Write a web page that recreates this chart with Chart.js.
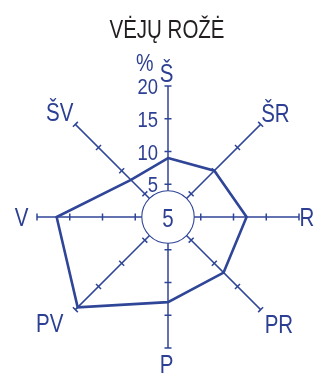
<!DOCTYPE html>
<html><head><meta charset="utf-8">
<script src="https://cdn.jsdelivr.net/npm/chart.js@4"></script>
<style>html,body{margin:0;padding:0;background:#fff;overflow:hidden}#wrap{width:331px;height:374px;position:relative}</style>
</head><body><div id="wrap"><canvas id="c"></canvas></div>
<script>
// ---- data ----
const chartTitle = 'VĖJŲ ROŽĖ';
const directions = ['Š', 'ŠR', 'R', 'PR', 'P', 'PV', 'V', 'ŠV'];
const frequency = [9, 10, 12, 12, 13, 19.5, 17, 8];
const calm = 5;
const tickValues = [5, 10, 15, 20];
const unitLabel = '%';

// ---- style ----
const BLUE = '#2f4597';
const TEXT_BLUE = '#2c3f92';
const FONT = '"Liberation Sans",Arial,sans-serif';
const NARROW = 0.82;
const CALM_RADIUS_VALUE = 4;
// label offsets relative to outer end of each axis: [dx, dy, align]
const labelPlace = [
  [-1.5, -4, 'center'],
  [0.5, -2.5, 'left'],
  [0.5, 8.5, 'left'],
  [4, 23, 'left'],
  [-1.5, 25, 'center'],
  [-12, 22, 'right'],
  [-8.5, 8.5, 'right'],
  [-2, -3, 'right']
];

function narrowText(ctx, text, x, y, size, align, color) {
  ctx.save();
  ctx.font = size + 'px ' + FONT;
  ctx.fillStyle = color;
  ctx.textAlign = align;
  ctx.textBaseline = 'alphabetic';
  ctx.translate(x, y);
  ctx.scale(NARROW, 1);
  ctx.fillText(text, 0, 0);
  ctx.restore();
}

const windPlugin = {
  id: 'windRose',
  beforeDatasetsDraw(chart) {
    const ctx = chart.ctx;
    const s = chart.scales.r;
    ctx.save();
    // tick marks perpendicular to each axis
    ctx.strokeStyle = BLUE;
    ctx.lineWidth = 1.5;
    for (let i = 0; i < directions.length; i++) {
      for (const v of tickValues) {
        const p = s.getPointPositionForValue(i, v);
        const nx = -Math.sin(p.angle), ny = Math.cos(p.angle);
        const h = 3.5;
        ctx.beginPath();
        ctx.moveTo(p.x - nx * h, p.y - ny * h);
        ctx.lineTo(p.x + nx * h, p.y + ny * h);
        ctx.stroke();
      }
    }
    // calm circle
    const r = s.getDistanceFromCenterForValue(CALM_RADIUS_VALUE);
    ctx.beginPath();
    ctx.arc(s.xCenter, s.yCenter, r, 0, Math.PI * 2);
    ctx.fillStyle = '#fff';
    ctx.fill();
    ctx.lineWidth = 1.1;
    ctx.stroke();
    ctx.restore();
    narrowText(ctx, String(calm), s.xCenter, s.yCenter + 9.5, 25, 'center', TEXT_BLUE);
    // tick labels on north axis
    for (const v of tickValues) {
      const p = s.getPointPositionForValue(0, v);
      narrowText(ctx, String(v), p.x - 10, p.y + 8, 22.5, 'right', TEXT_BLUE);
    }
    const top = s.getPointPositionForValue(0, tickValues[tickValues.length - 1]);
    narrowText(ctx, unitLabel, top.x - 14.5, top.y - 15, 24, 'right', TEXT_BLUE);
    // direction labels
    for (let i = 0; i < directions.length; i++) {
      const p = s.getPointPositionForValue(i, s.max);
      const [dx, dy, al] = labelPlace[i];
      narrowText(ctx, directions[i], p.x + dx, p.y + dy, 25, al, TEXT_BLUE);
    }
    // title
    narrowText(ctx, chartTitle, s.xCenter - 1, 38, 25, 'center', '#231f20');
  }
};

new Chart(document.getElementById('c'), {
  type: 'radar',
  data: {
    labels: directions,
    datasets: [{
      data: frequency,
      borderColor: BLUE,
      borderWidth: 2.6,
      fill: false,
      pointRadius: 0,
      tension: 0
    }]
  },
  options: {
    responsive: true,
    maintainAspectRatio: false,
    animation: false,
    layout: { padding: { left: 37, right: 32, top: 86, bottom: 26 } },
    plugins: { legend: { display: false }, title: { display: false }, tooltip: { enabled: false } },
    scales: {
      r: {
        min: 0,
        max: 20,
        startAngle: 0,
        ticks: { display: false, stepSize: 5 },
        grid: { display: false },
        angleLines: { display: true, color: BLUE, lineWidth: 1.5 },
        pointLabels: { display: false }
      }
    }
  },
  plugins: [windPlugin]
});
</script>
</body></html>
